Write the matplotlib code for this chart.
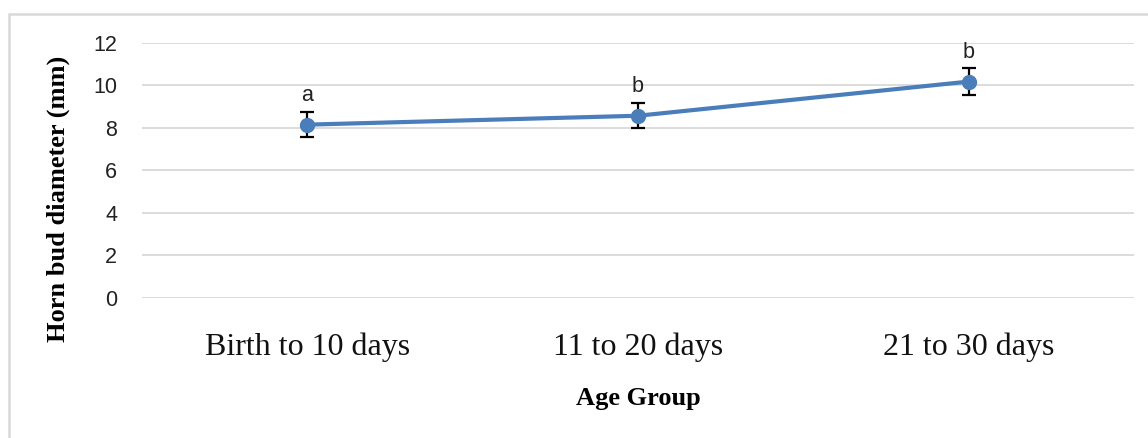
import matplotlib
matplotlib.use("Agg")
import matplotlib.pyplot as plt
from matplotlib.patches import Rectangle

# Horn bud diameter by age group (mean ± error)
age_groups = ["Birth to 10 days", "11 to 20 days", "21 to 30 days"]
diameter_mm = [8.15, 8.57, 10.18]
error_mm = [0.6, 0.6, 0.62]
group_letters = ["a", "b", "b"]
y_ticks = [0, 2, 4, 6, 8, 10, 12]

W, H = 1148, 438
fig = plt.figure(figsize=(W / 100, H / 100), dpi=100)
fig.patch.set_facecolor("white")

# light frame around the chart area
fig.patches.append(Rectangle((9 / W, -0.2), 1.2, 1.2 - 14 / H,
                             transform=fig.transFigure, fill=False,
                             edgecolor="#d9d9d9", linewidth=1.8, zorder=0))

ax = fig.add_axes([142 / W, 1 - 297.5 / H, (1134 - 142) / W, (297.5 - 43) / H])
ax.set_facecolor("none")

x = list(range(len(age_groups)))
ax.errorbar(x, diameter_mm, yerr=error_mm, fmt="none", ecolor="black",
            elinewidth=1.6, capsize=4.7, capthick=1.6, zorder=3)
ax.plot(x, diameter_mm, color="#4a7ebb", linewidth=3, marker="o",
        markersize=10, markerfacecolor="#4a7ebb", markeredgecolor="#4a7ebb",
        zorder=4)

for xi, yi, ei, lab in zip(x, diameter_mm, error_mm, group_letters):
    ax.annotate(lab, (xi, yi + ei), xytext=(0, 4), textcoords="offset points",
                ha="center", va="bottom", fontsize=15.5,
                family="Liberation Sans", color="#222222")

ax.set_xlim(-0.5, len(age_groups) - 0.5)
ax.set_ylim(0, 12)
ax.set_yticks(y_ticks)
ax.set_yticklabels([str(t) for t in y_ticks], family="Liberation Sans",
                   fontsize=15.5, color="#222222")
ax.set_xticks(x)
ax.set_xticklabels(age_groups, family="Liberation Serif", fontsize=23,
                   color="#111111")
ax.tick_params(axis="y", length=0, pad=18)
ax.tick_params(axis="x", length=0, pad=25)

ax.grid(axis="y", color="#d9d9d9", linewidth=1.3)
ax.set_axisbelow(True)
for s in ax.spines.values():
    s.set_visible(False)

ax.set_xlabel("Age Group", family="Liberation Serif", fontweight="bold",
              fontsize=19, va="center")
ax.xaxis.set_label_coords(0.5, -0.395)
ax.set_ylabel("Horn bud diameter (mm)", family="Liberation Serif",
              fontweight="bold", fontsize=19, va="center")
ax.yaxis.set_label_coords(-0.0847, 0.387)

fig.savefig("out.png", dpi=100)
